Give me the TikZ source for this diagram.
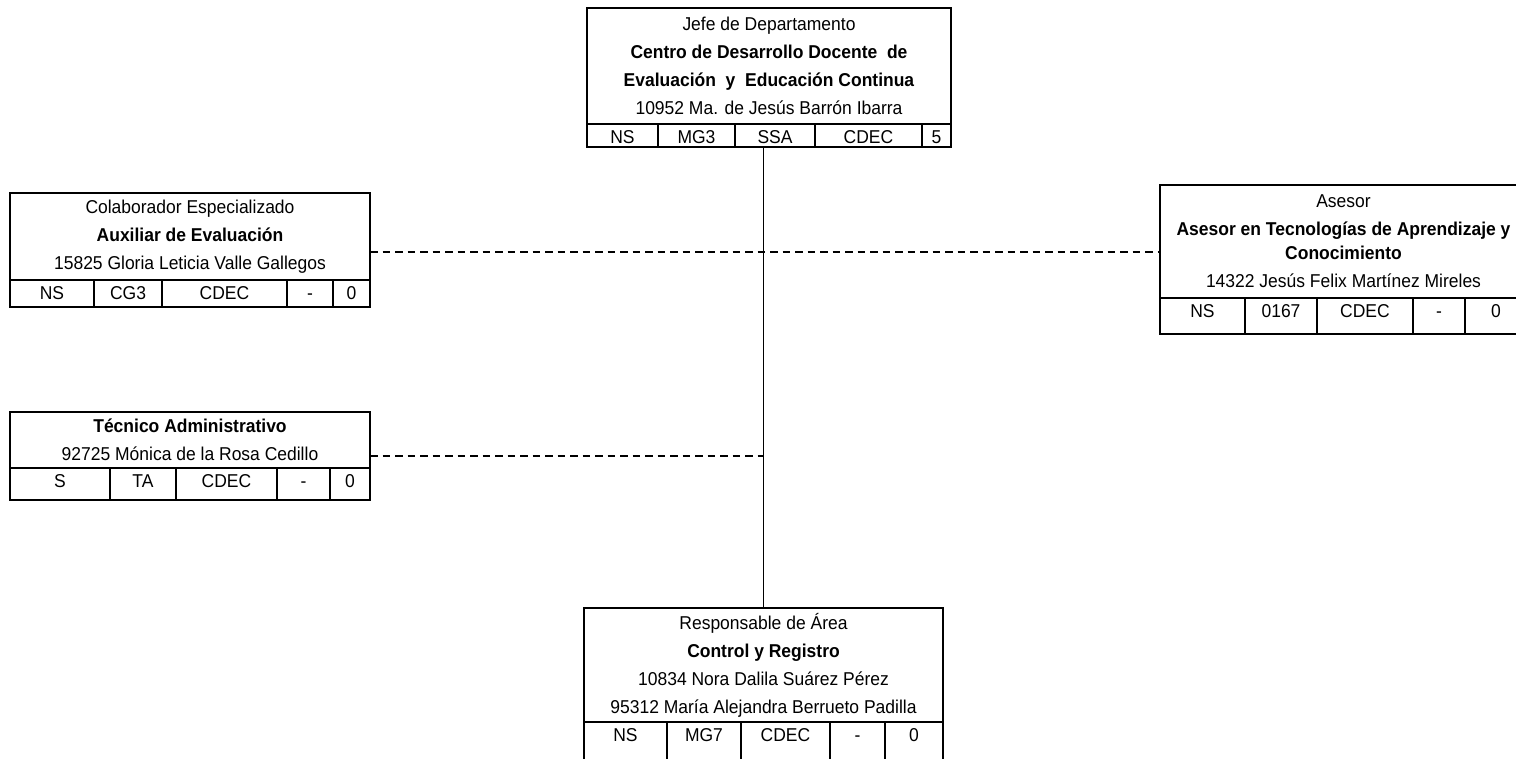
\documentclass[tikz,border=0pt]{standalone}
\usepackage{fontspec}
\setmainfont[FakeStretch=0.94]{Liberation Sans}
\usetikzlibrary{positioning}
\tikzstyle{head} = [rectangle,
inner sep=0pt, outer sep=0pt,
line width=1.8pt,
align=center,
draw=black,
font=\fontsize{18.6}{28}\selectfont]
\tikzstyle{cell}[3pt] = [rectangle,
inner sep=0pt, outer sep=0pt,
text height=19.5pt, text depth=#1,
line width=1.8pt,
text centered,
draw=black,
font=\fontsize{18.6}{22}\selectfont]
\tikzstyle{line} = [line width=1.8pt,-]
\tikzstyle{dashline} = [line width=1.8pt,dash pattern=on 7.5pt off 5pt]

\begin{document}
\begin{tikzpicture}[x=1pt, y=-1pt]
\useasboundingbox (0,0) rectangle (1516,759);
\clip (0,0) rectangle (1516,759);

\node (jefe) [head, minimum width=364pt, minimum height=116pt, anchor=north west] at (587,8) {Jefe de Departamento\\ \textbf{Centro de Desarrollo Docente~ de}\\ \textbf{Evaluación~ y~ Educación Continua}\\ 10952 Ma. de Jesús Barrón Ibarra};
\node (jefe1) [cell=3.5pt, minimum width=71pt, anchor=north west] at (jefe.south west) {NS};
\node (jefe2) [cell=3.5pt, minimum width=77pt, right=0pt of jefe1] {MG3};
\node (jefe3) [cell=3.5pt, minimum width=80pt, right=0pt of jefe2] {SSA};
\node (jefe4) [cell=3.5pt, minimum width=107pt, right=0pt of jefe3] {CDEC};
\node (jefe5) [cell=3.5pt, minimum width=29pt, right=0pt of jefe4] {5};

\node (auxEval) [head, minimum width=360pt, minimum height=87pt, anchor=north west] at (10,193) {Colaborador Especializado\\ \textbf{Auxiliar de Evaluación}\\ 15825 Gloria Leticia Valle Gallegos};
\node (aux1) [cell=7.5pt, minimum width=84pt, anchor=north west] at (auxEval.south west) {NS};
\node (aux2) [cell=7.5pt, minimum width=68pt, right=0pt of aux1] {CG3};
\node (aux3) [cell=7.5pt, minimum width=125pt, right=0pt of aux2] {CDEC};
\node (aux4) [cell=7.5pt, minimum width=46pt, right=0pt of aux3] {-};
\node (aux5) [cell=7.5pt, minimum width=37pt, right=0pt of aux4] {0};

\node (asesor) [head, minimum width=367pt, minimum height=113pt, anchor=north west] at (1160,185) {Asesor\\ \textbf{Asesor en Tecnologías de Aprendizaje y}\\[-4pt] \textbf{Conocimiento}\\ 14322 Jesús Felix Martínez Mireles};
\node (ase1) [cell=16.5pt, minimum width=85pt, anchor=north west] at (asesor.south west) {NS};
\node (ase2) [cell=16.5pt, minimum width=72pt, right=0pt of ase1] {0167};
\node (ase3) [cell=16.5pt, minimum width=96pt, right=0pt of ase2] {CDEC};
\node (ase4) [cell=16.5pt, minimum width=52pt, right=0pt of ase3] {-};
\node (ase5) [cell=16.5pt, minimum width=62pt, right=0pt of ase4] {0};

\node (tecAdm) [head, minimum width=360pt, minimum height=56pt, anchor=north west] at (10,412) {\textbf{Técnico Administrativo}\\ 92725 Mónica de la Rosa Cedillo};
\node (tec1) [cell=12.5pt, minimum width=100pt, anchor=north west] at (tecAdm.south west) {S};
\node (tec2) [cell=12.5pt, minimum width=66pt, right=0pt of tec1] {TA};
\node (tec3) [cell=12.5pt, minimum width=101pt, right=0pt of tec2] {CDEC};
\node (tec4) [cell=12.5pt, minimum width=53pt, right=0pt of tec3] {-};
\node (tec5) [cell=12.5pt, minimum width=40pt, right=0pt of tec4] {0};

\node (control) [head, minimum width=359pt, minimum height=114pt, anchor=north west] at (584,608) {Responsable de Área\\ \textbf{Control y Registro}\\ 10834 Nora Dalila Suárez Pérez\\ 95312 María Alejandra Berrueto Padilla};
\node (ctrl1) [cell=20.5pt, minimum width=83pt, anchor=north west] at (control.south west) {NS};
\node (ctrl2) [cell=20.5pt, minimum width=74pt, right=0pt of ctrl1] {MG7};
\node (ctrl3) [cell=20.5pt, minimum width=89pt, right=0pt of ctrl2] {CDEC};
\node (ctrl4) [cell=20.5pt, minimum width=55pt, right=0pt of ctrl3] {-};
\node (ctrl5) [cell=20.5pt, minimum width=58pt, right=0pt of ctrl4] {0};

\draw [line] (control.north |- jefe3.south) -- (control.north);
\draw [dashline] ([yshift=-15.5pt]auxEval.east) -- ([yshift=-15.5pt]auxEval.east -| asesor.west);
\draw [dashline] ([yshift=-16pt]tecAdm.east) -- ([yshift=-16pt]tecAdm.east -| control.north);
\end{tikzpicture}
\end{document}
